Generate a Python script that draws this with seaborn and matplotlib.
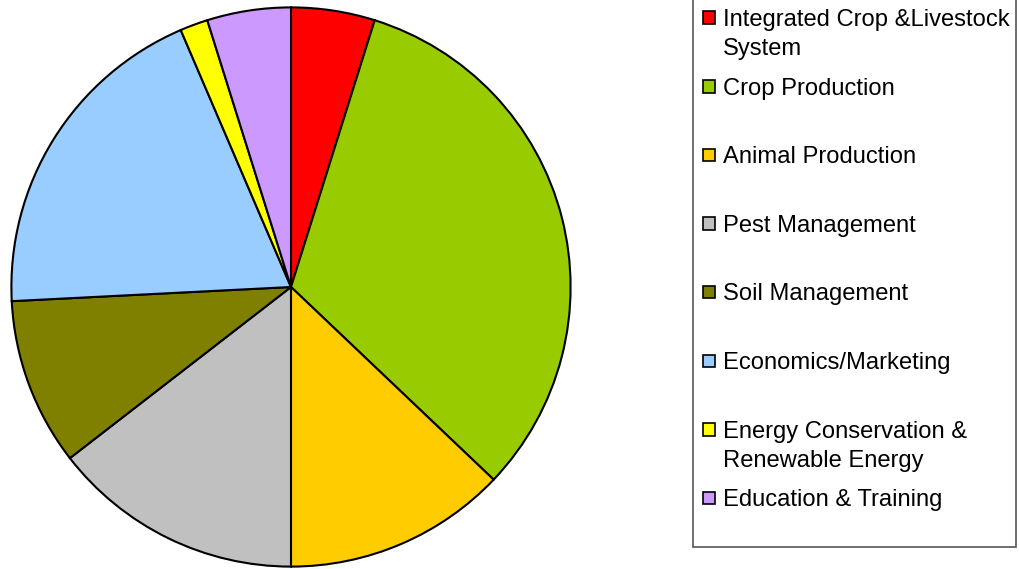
import matplotlib
matplotlib.use("Agg")
import matplotlib.pyplot as plt
from matplotlib.patches import Rectangle
import seaborn as sns

sns.set_theme(style="white")
plt.rcParams["font.family"] = ["Liberation Sans", "DejaVu Sans"]

# Number of projects per topic area
categories = [
    "Integrated Crop &Livestock\nSystem",
    "Crop Production",
    "Animal Production",
    "Pest Management",
    "Soil Management",
    "Economics/Marketing",
    "Energy Conservation &\nRenewable Energy",
    "Education & Training",
]
counts = [3, 20, 8, 9, 6, 12, 1, 3]
colors = ["#FF0000", "#99CC00", "#FFCC00", "#C0C0C0",
          "#808000", "#99CCFF", "#FFFF00", "#CC99FF"]

W, H = 1020, 569
fig = plt.figure(figsize=(W / 100, H / 100), dpi=100)
fig.patch.set_facecolor("white")

# Pie: centre (291, 287) px, radius 281 px
cx, cy, r = 291, 287, 281
ax = fig.add_axes([(cx - r) / W, (H - cy - r) / H, 2 * r / W, 2 * r / H])
ax.pie(counts, colors=colors, startangle=90, counterclock=False,
       radius=1.0,
       wedgeprops=dict(edgecolor="black", linewidth=1.5))
ax.set_xlim(-1.005, 1.005)
ax.set_ylim(-1.005, 1.005)
ax.set_aspect("equal")
ax.axis("off")

# Legend panel
box = Rectangle((693 / W, (H - 547) / H), (1016 - 693) / W, 1.0,
                transform=fig.transFigure, facecolor="white",
                edgecolor="#555555", linewidth=1.2)
fig.patches.append(box)

pitch = 68.6
for i, (label, col) in enumerate(zip(categories, colors)):
    y = 17.5 + i * pitch
    sq = Rectangle((703 / W, (H - y - 6.5) / H), 12.5 / W, 12.5 / H,
                   transform=fig.transFigure, facecolor=col,
                   edgecolor="black", linewidth=1.2)
    fig.patches.append(sq)
    for j, line in enumerate(label.split("\n")):
        fig.text(723 / W, (H - y - j * 29.5) / H, line, fontsize=17.1,
                 va="center_baseline", ha="left", color="black")

fig.savefig("out.png", dpi=100, facecolor="white")
